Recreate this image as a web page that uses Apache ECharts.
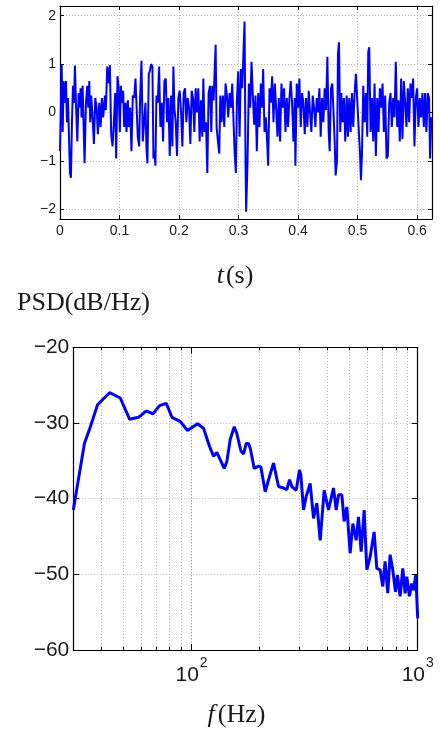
<!DOCTYPE html>
<html>
<head>
<meta charset="utf-8">
<script src="https://cdn.jsdelivr.net/npm/echarts@6/dist/echarts.min.js"></script>
<style>
html,body{margin:0;padding:0;background:#fff;}
#chart{width:440px;height:733px;}
</style>
</head>
<body>
<div id="chart"></div>
<script>
// ---- top panel: time signal (t in s, amplitude) ----
var sigT = [
0.0000,0.0028,0.0045,0.0061,0.0084,0.0101,0.0117,0.0134,0.0151,0.0168,
0.0184,0.0201,0.0218,0.0235,0.0251,0.0268,0.0291,0.0313,0.0330,0.0346,
0.0363,0.0380,0.0397,0.0413,0.0436,0.0458,0.0475,0.0492,0.0508,0.0525,
0.0547,0.0570,0.0592,0.0615,0.0637,0.0659,0.0682,0.0704,0.0726,0.0754,
0.0771,0.0793,0.0816,0.0838,0.0860,0.0883,0.0905,0.0927,0.0944,0.0966,
0.0983,0.1006,0.1022,0.1045,0.1061,0.1078,0.1101,0.1117,0.1140,0.1156,
0.1179,0.1201,0.1223,0.1246,0.1268,0.1285,0.1307,0.1330,0.1346,0.1369,
0.1391,0.1413,0.1436,0.1453,0.1469,0.1492,0.1508,0.1531,0.1553,0.1570,
0.1587,0.1603,0.1620,0.1642,0.1665,0.1687,0.1709,0.1732,0.1754,0.1777,
0.1799,0.1821,0.1844,0.1866,0.1888,0.1905,0.1922,0.1944,0.1966,0.1989,
0.2011,0.2034,0.2056,0.2078,0.2101,0.2123,0.2145,0.2168,0.2190,0.2212,
0.2235,0.2257,0.2279,0.2302,0.2324,0.2346,0.2369,0.2391,0.2408,0.2430,
0.2453,0.2475,0.2497,0.2520,0.2542,0.2559,0.2581,0.2598,0.2615,0.2631,
0.2654,0.2676,0.2693,0.2715,0.2737,0.2760,0.2782,0.2804,0.2827,0.2849,
0.2872,0.2894,0.2916,0.2933,0.2955,0.2972,0.2994,0.3017,0.3039,0.3061,
0.3084,0.3101,0.3117,0.3128,0.3151,0.3173,0.3196,0.3218,0.3240,0.3263,
0.3285,0.3307,0.3330,0.3352,0.3374,0.3397,0.3413,0.3436,0.3458,0.3480,
0.3497,0.3520,0.3542,0.3564,0.3587,0.3609,0.3631,0.3654,0.3676,0.3698,
0.3721,0.3743,0.3765,0.3788,0.3810,0.3832,0.3855,0.3877,0.3899,0.3922,
0.3944,0.3955,0.3978,0.4000,0.4022,0.4045,0.4067,0.4089,0.4112,0.4134,
0.4156,0.4179,0.4201,0.4223,0.4246,0.4268,0.4291,0.4313,0.4335,0.4358,
0.4380,0.4402,0.4425,0.4447,0.4469,0.4492,0.4514,0.4531,0.4553,0.4575,
0.4592,0.4615,0.4631,0.4654,0.4670,0.4687,0.4709,0.4726,0.4749,0.4771,
0.4793,0.4816,0.4838,0.4860,0.4883,0.4905,0.4927,0.4950,0.4972,0.4994,
0.5017,0.5039,0.5056,0.5073,0.5095,0.5117,0.5140,0.5162,0.5179,0.5196,
0.5218,0.5240,0.5263,0.5285,0.5307,0.5330,0.5352,0.5374,0.5397,0.5419,
0.5441,0.5464,0.5486,0.5508,0.5531,0.5553,0.5575,0.5598,0.5620,0.5642,
0.5665,0.5687,0.5709,0.5732,0.5754,0.5777,0.5799,0.5821,0.5844,0.5866,
0.5888,0.5911,0.5933,0.5955,0.5978,0.6000,0.6022,0.6045,0.6067,0.6089,
0.6112,0.6134,0.6156,0.6179,0.6201,0.6218,0.6240
];
var sigV = [
-0.8,1.0,-0.4,0.65,0.2,0.65,-0.2,0.3,-0.5,-1.25,
-1.35,-0.2,0.55,0.2,0.97,0.2,-0.6,0.4,0.1,0.5,
-0.1,0.55,-0.3,-1.05,0.2,0.55,0.1,0.65,-0.2,0.35,
-0.1,-0.65,0.3,0.1,-0.45,0.2,-0.3,0.3,-0.1,0.35,
0.05,0.95,0.6,0.98,-0.45,-0.7,-0.2,0.4,-0.95,0.75,
0.55,-0.4,0.55,0.2,0.45,-0.3,0.2,-0.4,0.25,-0.3,
0.1,-0.8,0.35,0.3,0.7,0.7,-0.5,-0.7,0.3,1.07,
-0.6,-0.2,0.2,-0.75,-1.05,0.8,0.85,1.0,0.95,-0.95,
-0.8,-1.1,0.35,0.2,0.95,-0.3,0.2,-0.6,0.65,0.7,
-0.2,0.3,-0.9,0.35,-0.7,0.95,0.1,-0.2,-0.9,0.3,
0.45,0.0,-0.7,0.4,0.5,-0.2,0.3,0.1,-0.65,0.45,
0.3,-0.4,0.5,0.0,0.5,-0.6,0.25,-0.5,0.7,-0.4,
-0.2,-1.25,0.4,0.55,-0.4,0.55,0.25,0.85,1.4,-0.3,
-0.6,-0.85,0.35,-0.2,0.35,-0.3,0.6,0.35,-0.1,0.4,
0.1,0.6,-0.2,-0.8,-1.25,0.25,0.85,-0.5,0.9,0.5,
1.3,1.88,-1.0,-2.05,-1.0,0.6,0.1,1.05,0.35,-0.25,
0.35,-0.8,0.4,-0.3,0.6,0.1,0.9,-0.4,-0.1,-0.6,
-1.1,0.5,0.2,0.75,-0.2,0.6,0.1,-0.5,0.3,-0.6,
0.6,0.1,0.5,-0.4,0.3,-0.3,0.3,0.65,0.2,-0.6,
0.3,-1.1,0.6,0.1,0.7,-0.3,0.4,0.2,-0.45,0.3,
-0.3,0.45,0.0,-0.4,0.35,0.1,-0.3,0.3,0.0,0.5,
-0.5,0.3,-0.2,0.5,0.05,1.15,-0.4,-0.8,0.5,0.6,
0.1,-0.6,-1.3,-1.0,1.2,1.45,-0.4,0.4,-0.2,0.3,
-0.6,0.35,-0.5,0.3,-0.4,0.4,-0.3,0.4,0.8,0.8,
-0.3,-0.8,-1.4,-0.9,0.55,-0.2,0.4,-0.5,1.25,1.35,
-0.4,0.3,-0.6,0.6,-0.9,0.3,-0.4,0.5,0.1,0.6,
-0.4,0.35,-0.95,-0.9,0.2,0.4,-0.3,0.3,-0.1,1.05,
-0.3,0.25,-0.6,0.7,-0.55,0.65,0.2,-0.3,0.5,-0.2,
0.6,0.3,0.7,-0.7,0.3,0.5,-0.3,0.3,-0.1,0.4,
-0.3,0.4,-0.4,0.4,0.3,-0.95,-0.1
];

// ---- bottom panel: PSD (Hz, dB/Hz) ----
var psdF = [30,33.6,35.7,38.4,40.8,43.4,48.4,53.2,58.3,63.1,
67.5,72.2,77.3,81.9,89.1,96.0,106.3,113,120.1,125.1,
129.4,139.5,143.3,148.2,154.4,158.6,165.3,169.8,174.5,178.6,
181.7,189.3,197.8,202.5,211.7,219,230.4,242.4,255.1,263.9,
271.2,277.7,290.2,300.2,304.3,312.7,321.3,334.6,346.2,358.1,
370.5,385.9,403.3,424.3,436,446.5,461.9,472.9,486,502.7,
516.6,534.4,547.2,562.3,579.8,595.7,616.2,641.7,659.4,682.1,
700.9,717.7,737.4,755.1,775.9,797.3,813.7,836.1,859.1,879.7,
894.8,919.4,941.5,957.5,980.6,995,1000];
var psdDb = [-41.5,-32.7,-30.5,-27.6,-26.8,-26.0,-26.7,-29.5,-29.25,-28.4,
-28.8,-27.7,-27.4,-29.25,-29.8,-31.0,-30.1,-30.7,-33.1,-34.4,
-33.9,-36.0,-35.1,-32.2,-30.5,-31.4,-33.7,-34.1,-32.7,-32.7,
-33.3,-36.0,-35.7,-35.8,-39.1,-37.5,-35.3,-38.4,-38.6,-38.8,
-37.5,-38.4,-38.9,-36.2,-36.9,-41.5,-39.7,-38.0,-42.6,-40.6,
-45.5,-38.9,-41.5,-38.6,-41.5,-39.5,-39.5,-43.0,-41.1,-47.2,
-43.3,-45.5,-42.4,-47.0,-41.5,-49.4,-47.7,-44.4,-49.2,-49.4,
-51.6,-48.3,-52.5,-47.4,-49.4,-52.3,-50.1,-52.9,-49.2,-52.5,
-50.3,-52.9,-51.2,-52.1,-50.1,-50.0,-55.8];

// minor log-grid positions (Hz)
var minorF = [40,50,60,70,80,90,200,300,400,500,600,700,800,900];

// axis ranges
var tRange = [0, 0.625];
var ampRange = [-2.2, 2.2];
var fRange = [30, 1000];
var dbRange = [-60, -20];

var MINUS = '\u2212';
function fmtNum(v){ return (v < 0 ? MINUS : '') + String(Math.abs(v)); }

var sigData = [];
for (var i = 0; i < Math.min(sigT.length, sigV.length); i++) sigData.push([sigT[i], sigV[i]]);
var psdData = [];
for (var j = 0; j < Math.min(psdF.length, psdDb.length); j++) psdData.push([psdF[j], psdDb[j]]);

var gridColor = '#b8b8b8';
var dotted = [1, 2];

var mlData = [];
minorF.forEach(function(f){
  mlData.push({xAxis: f, lineStyle: {color: gridColor, type: dotted, width: 1}});
  mlData.push([{coord: [f, dbRange[0]], lineStyle: {color: '#000', type: 'solid', width: 1}}, {coord: [f, dbRange[0] + 0.4]}]);
  mlData.push([{coord: [f, dbRange[1]], lineStyle: {color: '#000', type: 'solid', width: 1}}, {coord: [f, dbRange[1] - 0.4]}]);
});

var sansFont = '"Liberation Sans", Arial, Helvetica, sans-serif';
var serifFont = '"Liberation Serif", "Times New Roman", serif';

function boxAxis(extra){
  var base = {
    axisLine: {show: true, onZero: false, lineStyle: {color: '#000', width: 1.2}},
    axisTick: {show: true, inside: true, length: 4, lineStyle: {color: '#000', width: 1}},
    axisLabel: {show: false},
    splitLine: {show: false}
  };
  for (var k in extra) base[k] = extra[k];
  return base;
}

var option = {
  animation: false,
  backgroundColor: '#fff',
  grid: [
    {left: 60, top: 6, width: 372, height: 213},
    {left: 73.3, top: 347.3, width: 344.4, height: 302.7}
  ],
  xAxis: [
    boxAxis({
      type: 'value', gridIndex: 0, position: 'bottom', min: tRange[0], max: tRange[1], interval: 0.1,
      axisTick: {show: true, inside: true, length: 4, lineStyle: {color: '#000', width: 1}},
      axisLabel: {show: true, margin: 5, fontSize: 14, fontFamily: sansFont, color: '#1a1a1a',
        formatter: function(v){ if (v > 0.6 + 1e-9) return ''; return String(Math.round(v * 10) / 10); }},
      splitLine: {show: true, lineStyle: {color: gridColor, type: dotted, width: 1}}
    }),
    boxAxis({type: 'value', gridIndex: 0, position: 'top', min: tRange[0], max: tRange[1], interval: 0.1}),
    boxAxis({
      type: 'log', logBase: 10, gridIndex: 1, position: 'bottom', min: fRange[0], max: fRange[1],
      axisTick: {show: true, inside: true, length: 6, lineStyle: {color: '#000', width: 1}},
      axisLabel: {show: true, margin: 6, fontFamily: sansFont, color: '#1a1a1a',
        formatter: function(v){
          var e = Math.round(Math.log(v) / Math.LN10);
          if (Math.abs(v - Math.pow(10, e)) > 1e-6 * v) return '';
          return '{b|10}{s|' + e + '}';
        },
        rich: {
          b: {fontSize: 21, fontFamily: sansFont, color: '#1a1a1a', lineHeight: 30, verticalAlign: 'bottom'},
          s: {fontSize: 14, fontFamily: sansFont, color: '#1a1a1a', lineHeight: 30, verticalAlign: 'top', padding: [0, 0, 0, 1]}
        }},
      splitLine: {show: true, lineStyle: {color: '#777', type: dotted, width: 1}}
    }),
    boxAxis({type: 'log', logBase: 10, gridIndex: 1, position: 'top', min: fRange[0], max: fRange[1],
      axisTick: {show: true, inside: true, length: 6, lineStyle: {color: '#000', width: 1}}})
  ],
  yAxis: [
    boxAxis({
      type: 'value', gridIndex: 0, position: 'left', min: ampRange[0], max: ampRange[1], splitNumber: 5,
      axisLabel: {show: true, margin: 4, fontSize: 14, fontFamily: sansFont, color: '#1a1a1a',
        formatter: function(v){ if (Math.abs(v - Math.round(v)) > 1e-9) return ''; return fmtNum(Math.round(v)); }},
      splitLine: {show: true, lineStyle: {color: gridColor, type: dotted, width: 1}}
    }),
    boxAxis({type: 'value', gridIndex: 0, position: 'right', min: ampRange[0], max: ampRange[1], splitNumber: 5}),
    boxAxis({
      type: 'value', gridIndex: 1, position: 'left', min: dbRange[0], max: dbRange[1], interval: 10,
      axisTick: {show: true, inside: true, length: 6, lineStyle: {color: '#000', width: 1}},
      axisLabel: {show: true, margin: 4, fontSize: 21, fontFamily: sansFont, color: '#1a1a1a',
        formatter: function(v){ return fmtNum(v); }},
      splitLine: {show: true, lineStyle: {color: gridColor, type: dotted, width: 1}}
    }),
    boxAxis({type: 'value', gridIndex: 1, position: 'right', min: dbRange[0], max: dbRange[1], interval: 10,
      axisTick: {show: true, inside: true, length: 6, lineStyle: {color: '#000', width: 1}}})
  ],
  series: [
    {
      type: 'line', xAxisIndex: 0, yAxisIndex: 0, data: sigData, showSymbol: false, symbol: 'none',
      lineStyle: {color: '#0000ff', width: 2}, z: 3, silent: true
    },
    {
      type: 'line', xAxisIndex: 2, yAxisIndex: 2, data: psdData, showSymbol: false, symbol: 'none',
      lineStyle: {color: '#0000ff', width: 3}, z: 3, silent: true,
      markLine: {
        silent: true, symbol: ['none', 'none'], z: 1, animation: false,
        label: {show: false}, emphasis: {disabled: true},
        data: mlData
      }
    }
  ],
  graphic: [
    {type: 'text', x: 235, y: 276, style: {
      text: '{i|t}{n|(s)}', align: 'center', verticalAlign: 'middle', fill: '#1a1a1a',
      fontSize: 26, fontFamily: serifFont,
      rich: {i: {fontStyle: 'italic', fontSize: 26, fontFamily: serifFont, fill: '#1a1a1a', padding: [0, 2, 0, 0]},
             n: {fontSize: 26, fontFamily: serifFont, fill: '#1a1a1a'}}
    }},
    {type: 'text', x: 17, y: 303, style: {
      text: 'PSD(dB/Hz)', align: 'left', verticalAlign: 'middle', fill: '#1a1a1a',
      fontSize: 26, fontFamily: serifFont
    }},
    {type: 'text', x: 236.5, y: 715, style: {
      text: '{i|f}{n|(Hz)}', align: 'center', verticalAlign: 'middle', fill: '#1a1a1a',
      fontSize: 26, fontFamily: serifFont,
      rich: {i: {fontStyle: 'italic', fontSize: 26, fontFamily: serifFont, fill: '#1a1a1a', padding: [0, 3, 0, 0]},
             n: {fontSize: 26, fontFamily: serifFont, fill: '#1a1a1a'}}
    }}
  ]
};

var chart = echarts.init(document.getElementById('chart'), null, {renderer: 'canvas'});
chart.setOption(option);
</script>
</body>
</html>
